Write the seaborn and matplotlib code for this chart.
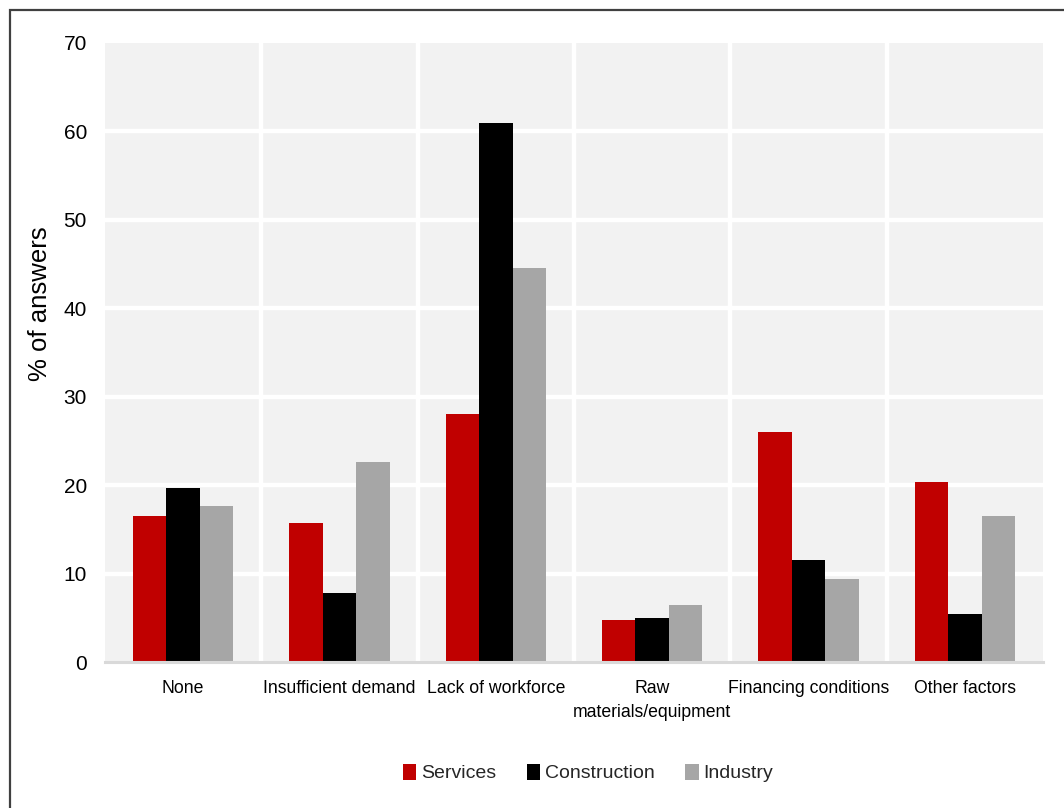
import matplotlib
matplotlib.use("Agg")
import matplotlib.pyplot as plt
import seaborn as sns
import pandas as pd
from matplotlib.patches import Rectangle

categories = ["None", "Insufficient demand", "Lack of workforce",
              "Raw\nmaterials/equipment", "Financing conditions", "Other factors"]
services = [16.5, 15.7, 28.0, 4.7, 26.0, 20.3]
construction = [19.7, 7.8, 61.0, 5.0, 11.5, 5.4]
industry = [17.6, 22.6, 44.5, 6.4, 9.4, 16.5]
series_names = ["Services", "Construction", "Industry"]
colors = ["#C00000", "#000000", "#A6A6A6"]
yticks = [0, 10, 20, 30, 40, 50, 60, 70]

rows = []
for name, vals in zip(series_names, [services, construction, industry]):
    for c, v in zip(categories, vals):
        rows.append({"category": c, "series": name, "value": v})
df = pd.DataFrame(rows)

sns.set_theme(style="white")
plt.rcParams["font.family"] = ["Liberation Sans", "DejaVu Sans"]

fig = plt.figure(figsize=(10.64, 8.08), dpi=100)
ax = fig.add_axes([105/1064, 1 - 662/808, (1043 - 105)/1064, (662 - 43)/808])

sns.barplot(data=df, x="category", y="value", hue="series", order=categories,
            hue_order=series_names, palette=colors, width=0.643, gap=0,
            saturation=1, errorbar=None, ax=ax, linewidth=0, zorder=3)

ax.set_facecolor("#F2F2F2")
ax.set_ylim(0, 70)
ax.set_xlim(-0.5, len(categories) - 0.5)
ax.set_yticks(yticks)
ax.set_yticklabels([str(t) for t in yticks], fontsize=15, color="#000000")
ax.tick_params(axis="y", length=0, pad=13)
ax.tick_params(axis="x", length=0, pad=13, labelsize=12.7, labelcolor="#000000")
for lbl in ax.get_xticklabels():
    lbl.set_linespacing(1.5)

for y in yticks[1:-1]:
    ax.axhline(y, color="white", linewidth=3.2, zorder=1)
for i in range(len(categories) - 1):
    ax.axvline(i + 0.5, color="white", linewidth=3.2, zorder=1)

for s in ["top", "right", "left"]:
    ax.spines[s].set_visible(False)
ax.spines["bottom"].set_color("#D9D9D9")
ax.spines["bottom"].set_linewidth(2.2)
ax.spines["bottom"].set_zorder(4)

ax.set_xlabel("")
ax.set_ylabel("% of answers", fontsize=18.5, color="#000000")
ax.yaxis.set_label_coords(-0.056, 0.579)

ax.legend(loc="center", bbox_to_anchor=(588/1064, 1 - 773/808),
          bbox_transform=fig.transFigure, ncol=3, frameon=False,
          fontsize=14, handlelength=0.7, handleheight=0.9, handletextpad=0.25,
          columnspacing=1.55, title=None)

fig.add_artist(Rectangle((10/1064, -0.1), 1.2, 1.1 - 10/808 + 0.0,
                         transform=fig.transFigure, fill=False,
                         edgecolor="#404040", linewidth=1.6))

fig.savefig("out.png", dpi=100, facecolor="white")
